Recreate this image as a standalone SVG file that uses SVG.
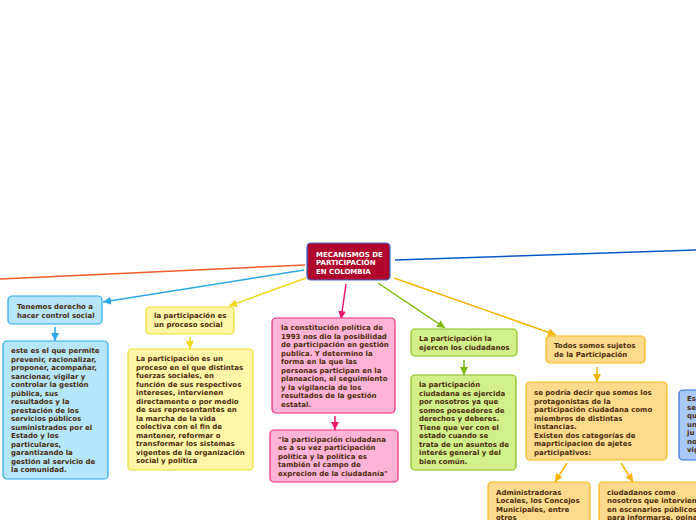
<svg xmlns="http://www.w3.org/2000/svg" width="696" height="520" viewBox="0 0 696 520">
<style>
text{font-family:"DejaVu Sans","Verdana",sans-serif;font-weight:bold;font-size:7px;fill:#4a2c0c}
.w{fill:#ffffff}
.c{fill:none;stroke-width:1.5}
rect{stroke-width:1.2}
.bl{fill:#b5e6fb;stroke:#2aa8e8}
.ye{fill:#fff6a8;stroke:#f0dc2a}
.pk{fill:#ffb3d6;stroke:#ee2a7b}
.gr{fill:#d2f08a;stroke:#86c01a}
.or{fill:#fedb8c;stroke:#f9b716}
.db{fill:#a8c8f8;stroke:#2f6fd8}
</style>
<defs>
<marker id="mBl" markerUnits="userSpaceOnUse" markerWidth="9" markerHeight="8" refX="8" refY="4" orient="auto"><path d="M0,0 L8,4 L0,8 z" fill="#2aa8e8"/></marker>
<marker id="mYe" markerUnits="userSpaceOnUse" markerWidth="9" markerHeight="8" refX="8" refY="4" orient="auto"><path d="M0,0 L8,4 L0,8 z" fill="#f0d820"/></marker>
<marker id="mPk" markerUnits="userSpaceOnUse" markerWidth="9" markerHeight="8" refX="8" refY="4" orient="auto"><path d="M0,0 L8,4 L0,8 z" fill="#ee1a70"/></marker>
<marker id="mGr" markerUnits="userSpaceOnUse" markerWidth="9" markerHeight="8" refX="8" refY="4" orient="auto"><path d="M0,0 L8,4 L0,8 z" fill="#7ab800"/></marker>
<marker id="mOr" markerUnits="userSpaceOnUse" markerWidth="9" markerHeight="8" refX="8" refY="4" orient="auto"><path d="M0,0 L8,4 L0,8 z" fill="#f9b400"/></marker>
</defs>
<rect width="696" height="520" fill="#ffffff" stroke="none"/>
<g id="connectors">
<line class="c" x1="305" y1="265" x2="0" y2="279" stroke="#f05a28"/>
<line class="c" x1="395" y1="260" x2="696" y2="250" stroke="#0a58c8"/>
<line class="c" x1="304" y1="270" x2="103" y2="302" stroke="#2aa8e8" marker-end="url(#mBl)"/>
<line class="c" x1="306" y1="278" x2="229" y2="306" stroke="#f0d820" marker-end="url(#mYe)"/>
<line class="c" x1="346" y1="284" x2="341" y2="319" stroke="#ee1a70" marker-end="url(#mPk)"/>
<line class="c" x1="378" y1="283" x2="445" y2="328" stroke="#7ab800" marker-end="url(#mGr)"/>
<line class="c" x1="394" y1="278" x2="556" y2="335" stroke="#f9b400" marker-end="url(#mOr)"/>
<line class="c" x1="55" y1="327" x2="55" y2="341" stroke="#2aa8e8" marker-end="url(#mBl)"/>
<line class="c" x1="190" y1="337" x2="190" y2="349" stroke="#f0d820" marker-end="url(#mYe)"/>
<line class="c" x1="335" y1="416" x2="335" y2="430" stroke="#ee1a70" marker-end="url(#mPk)"/>
<line class="c" x1="464" y1="360" x2="464" y2="375" stroke="#7ab800" marker-end="url(#mGr)"/>
<line class="c" x1="597" y1="367" x2="597" y2="382" stroke="#f9b400" marker-end="url(#mOr)"/>
<line class="c" x1="567" y1="463" x2="555" y2="482" stroke="#f9b400" marker-end="url(#mOr)"/>
<line class="c" x1="621" y1="463" x2="633" y2="482" stroke="#f9b400" marker-end="url(#mOr)"/>
</g>
<g id="central">
<rect x="307" y="243" width="83" height="37" rx="4" fill="#b0062b" stroke="#3a6fd0" stroke-width="1.5"/>
<text class="w" x="316" y="256.5">MECANISMOS DE</text>
<text class="w" x="316" y="265">PARTICIPACIÓN</text>
<text class="w" x="316" y="273.5">EN COLOMBIA</text>
</g>
<g id="n-control">
<rect class="bl" x="8" y="296" width="94" height="28" rx="4"/>
<text x="17" y="309">Tenemos derecho a</text>
<text x="17" y="318">hacer control social</text>
</g>
<g id="n-control-body">
<rect class="bl" x="3" y="341" width="105" height="138" rx="4"/>
<text x="11" y="353">este es el que permite</text>
<text x="11" y="361.5">prevenir, racionalizar,</text>
<text x="11" y="370">proponer, acompañar,</text>
<text x="11" y="378.5">sancionar, vigilar y</text>
<text x="11" y="387">controlar la gestión</text>
<text x="11" y="395.5">pública, sus</text>
<text x="11" y="404">resultados y la</text>
<text x="11" y="412.5">prestación de los</text>
<text x="11" y="421">servicios públicos</text>
<text x="11" y="429.5">suministrados por el</text>
<text x="11" y="438">Estado y los</text>
<text x="11" y="446.5">particulares,</text>
<text x="11" y="455">garantizando la</text>
<text x="11" y="463.5">gestión al servicio de</text>
<text x="11" y="472">la comunidad.</text>
</g>
<g id="n-proceso">
<rect class="ye" x="146" y="307" width="88" height="27" rx="4"/>
<text x="154" y="318">la participación es</text>
<text x="154" y="327">un proceso social</text>
</g>
<g id="n-proceso-body">
<rect class="ye" x="128" y="349" width="125" height="121" rx="4"/>
<text x="136" y="361">La participación es un</text>
<text x="136" y="369.5">proceso en el que distintas</text>
<text x="136" y="378">fuerzas sociales, en</text>
<text x="136" y="386.5">función de sus respectivos</text>
<text x="136" y="395">intereses, intervienen</text>
<text x="136" y="403.5">directamente o por medio</text>
<text x="136" y="412">de sus representantes en</text>
<text x="136" y="420.5">la marcha de la vida</text>
<text x="136" y="429">colectiva con el fin de</text>
<text x="136" y="437.5">mantener, reformar o</text>
<text x="136" y="446">transformar los sistemas</text>
<text x="136" y="454.5">vigentes de la organización</text>
<text x="136" y="463">social y política</text>
</g>
<g id="n-constitucion">
<rect class="pk" x="272" y="318" width="123" height="95" rx="4"/>
<text x="281" y="330">la constitución política de</text>
<text x="281" y="338.5">1993 nos dio la posibilidad</text>
<text x="281" y="347">de participación en gestión</text>
<text x="281" y="355.5">publica. Y determino la</text>
<text x="281" y="364">forma en la que las</text>
<text x="281" y="372.5">personas participan en la</text>
<text x="281" y="381">planeacion, el seguimiento</text>
<text x="281" y="389.5">y la vigilancia de los</text>
<text x="281" y="398">resultados de la gestión</text>
<text x="281" y="406.5">estatal.</text>
</g>
<g id="n-cita">
<rect class="pk" x="270" y="430" width="128" height="52" rx="4"/>
<text x="278" y="441.5">"la participación ciudadana</text>
<text x="278" y="450">es a su vez participación</text>
<text x="278" y="458.5">política y la política es</text>
<text x="278" y="467">también el campo de</text>
<text x="278" y="475.5">exprecion de la ciudadanía"</text>
</g>
<g id="n-ejercen">
<rect class="gr" x="411" y="329" width="106" height="27" rx="4"/>
<text x="419" y="341">La participación la</text>
<text x="419" y="350">ejercen los ciudadanos</text>
</g>
<g id="n-ejercen-body">
<rect class="gr" x="411" y="375" width="105" height="95" rx="4"/>
<text x="419" y="387">la participación</text>
<text x="419" y="395.5">ciudadana es ejercida</text>
<text x="419" y="404">por nosotros ya que</text>
<text x="419" y="412.5">somos poseedores de</text>
<text x="419" y="421">derechos y deberes.</text>
<text x="419" y="429.5">Tiene que ver con el</text>
<text x="419" y="438">estado cuando se</text>
<text x="419" y="446.5">trata de un asuntos de</text>
<text x="419" y="455">interés general y del</text>
<text x="419" y="463.5">bien común.</text>
</g>
<g id="n-sujetos">
<rect class="or" x="546" y="336" width="99" height="27" rx="4"/>
<text x="554" y="348">Todos somos sujetos</text>
<text x="554" y="357">de la Participación</text>
</g>
<g id="n-sujetos-body">
<rect class="or" x="526" y="382" width="141" height="78" rx="4"/>
<text x="534" y="395">se podría decir que somos los</text>
<text x="534" y="403.5">protagonistas de la</text>
<text x="534" y="412">participación ciudadana como</text>
<text x="534" y="420.5">miembros de distintas</text>
<text x="534" y="429">instancias.</text>
<text x="534" y="437.5">Existen dos categorías de</text>
<text x="534" y="446">maprticipacion de ajetes</text>
<text x="534" y="454.5">participativos:</text>
</g>
<g id="n-administradoras">
<rect class="or" x="488" y="482" width="102" height="50" rx="4"/>
<text x="496" y="494.5">Administradoras</text>
<text x="496" y="503">Locales, los Concejos</text>
<text x="496" y="511.5">Municipales, entre</text>
<text x="496" y="520">otros</text>
</g>
<g id="n-ciudadanos">
<rect class="or" x="599" y="482" width="110" height="50" rx="4"/>
<text x="607" y="494.5">ciudadanos como</text>
<text x="607" y="503">nosotros que  intervienen</text>
<text x="607" y="511.5">en escenarios públicos</text>
<text x="607" y="520">para informarse, opinar</text>
</g>
<g id="n-derecha">
<rect class="db" x="679" y="390" width="40" height="70" rx="4"/>
<text x="687" y="401">Es</text>
<text x="687" y="409.5">se</text>
<text x="687" y="418">qu</text>
<text x="687" y="426.5">un</text>
<text x="687" y="435">ju</text>
<text x="687" y="443.5">no</text>
<text x="687" y="452">vig</text>
</g>
</svg>
